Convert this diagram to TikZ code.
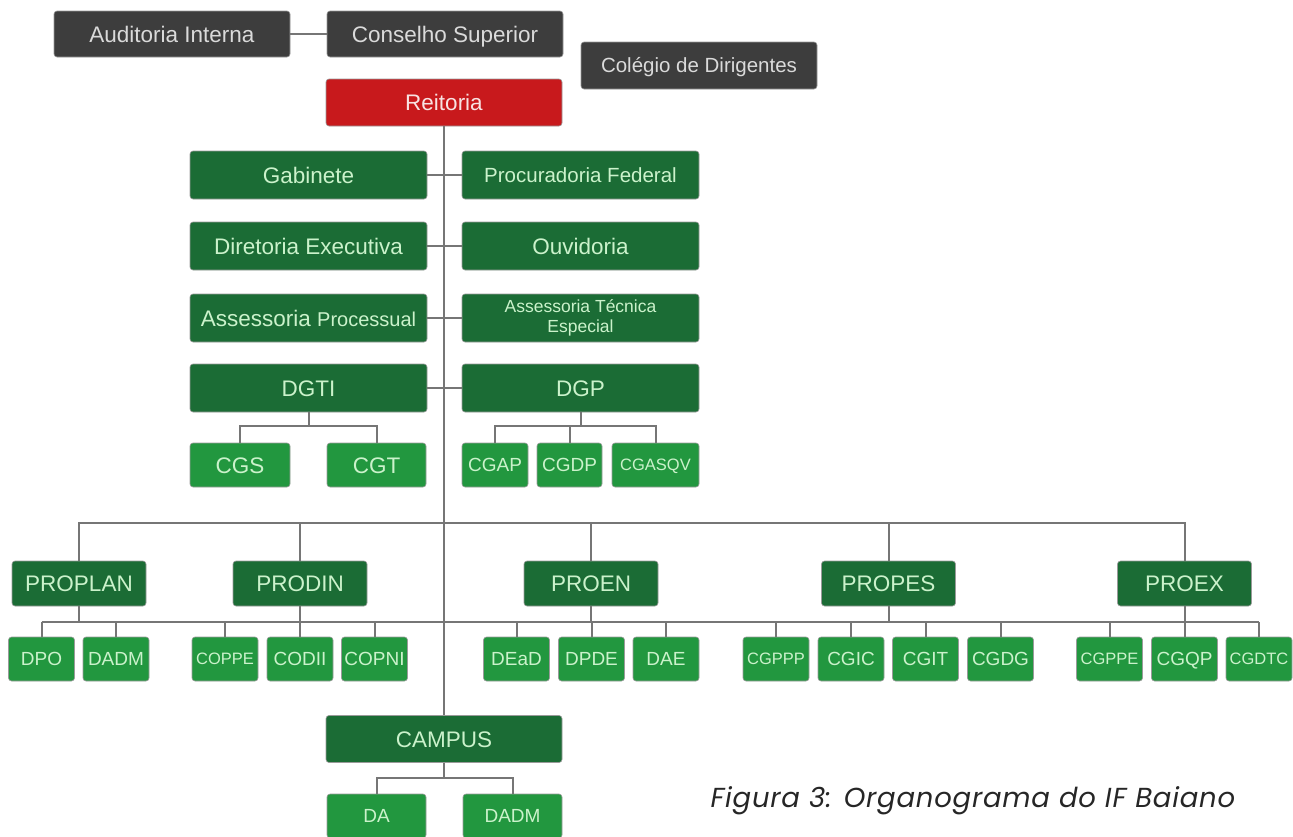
\documentclass[tikz,border=0pt]{standalone}
\usepackage{fontspec}
\setmainfont{Liberation Sans}
\newfontfamily\capfont{Poppins}[LetterSpace=2.8]
\definecolor{boxgray}{HTML}{3D3D3D}
\definecolor{txtgray}{HTML}{DADADA}
\definecolor{reired}{HTML}{C8191C}
\definecolor{txtred}{HTML}{F8E2E2}
\definecolor{darkgreen}{HTML}{1B6C35}
\definecolor{lightgreen}{HTML}{22973F}
\definecolor{txtgreen}{HTML}{CBF2CB}
\definecolor{linegray}{HTML}{767676}
\definecolor{edgegray}{HTML}{9A9A9A}
\definecolor{captxt}{HTML}{262626}
\newcommand{\fsz}[1]{\fontsize{#1}{#1}\selectfont}
\tikzset{
  org/.style={rectangle, rounded corners=3pt, inner sep=0pt, anchor=center, draw=edgegray, line width=0.6pt},
  fbig/.style={font=\fsz{22.5}, text height=16.1pt, text depth=0pt},
  fmid/.style={font=\fsz{20.5}, text height=14.7pt, text depth=0pt},
  fsub/.style={font=\fsz{19}, text height=13.6pt, text depth=0pt},
  tiny/.style={font=\fsz{16.5}, text height=11.8pt, text depth=0pt},
  topbox/.style={org, fbig, fill=boxgray, text=txtgray, minimum width=236pt, minimum height=46pt},
  headbox/.style={org, fbig, fill=reired, text=txtred, minimum width=236pt, minimum height=47pt},
  mainbox/.style={org, fbig, fill=darkgreen, text=txtgreen, minimum width=237pt, minimum height=48pt},
  twobox/.style={org, fill=darkgreen, text=txtgreen, minimum width=237pt, minimum height=48pt, align=center, font=\fontsize{17.5}{20}\selectfont},
  probox/.style={org, fbig, fill=darkgreen, text=txtgreen, minimum width=134pt, minimum height=45pt},
  subbox/.style={org, fsub, fill=lightgreen, text=txtgreen, minimum width=66pt, minimum height=44pt},
  link/.style={draw=linegray, line width=2pt},
}
\begin{document}
\begin{tikzpicture}[x=1pt, y=-1pt]
  \useasboundingbox (0,0) rectangle (1293,836);
  \node[topbox] (auditoria) at (172,34) {Auditoria Interna};
  \node[topbox] (conselho) at (445,34) {Conselho Superior};
  \node[topbox, minimum height=47pt, fmid] (colegio) at (699,65.5) {Colégio de Dirigentes};
  \node[headbox] (reitoria) at (444,102.5) {Reitoria};

  \node[mainbox] (gabinete) at (308.5,175) {Gabinete};
  \node[mainbox, fmid] (procuradoria) at (580.5,175) {Procuradoria Federal};
  \node[mainbox] (diretoria) at (308.5,246) {Diretoria Executiva};
  \node[mainbox] (ouvidoria) at (580.5,246) {Ouvidoria};
  \node[mainbox] (asproc) at (308.5,318) {Assessoria {\fsz{20}Processual}};
  \node[twobox] (astec) at (580.5,318) {Assessoria Técnica\\Especial};
  \node[mainbox] (dgti) at (308.5,388) {DGTI};
  \node[mainbox] (dgp) at (580.5,388) {DGP};

  \node[subbox, minimum width=100pt, fbig] (cgs) at (240,465) {CGS};
  \node[subbox, minimum width=99pt, fbig] (cgt) at (376.5,465) {CGT};
  \node[subbox] (cgap) at (495,465) {CGAP};
  \node[subbox, minimum width=65pt] (cgdp) at (569.5,465) {CGDP};
  \node[subbox, minimum width=87pt, tiny] (cgasqv) at (655.5,465) {CGASQV};

  \node[probox] (proplan) at (79,583.5) {PROPLAN};
  \node[probox] (prodin) at (300,583.5) {PRODIN};
  \node[probox] (proen) at (591,583.5) {PROEN};
  \node[probox] (propes) at (888.5,583.5) {PROPES};
  \node[probox] (proex) at (1184.5,583.5) {PROEX};

  \node[subbox] (dpo) at (41.5,659) {DPO};
  \node[subbox] (dadm) at (116,659) {DADM};
  \node[subbox, tiny] (coppe) at (225,659) {COPPE};
  \node[subbox] (codii) at (300,659) {CODII};
  \node[subbox] (copni) at (374.5,659) {COPNI};
  \node[subbox] (dead) at (516.5,659) {DEaD};
  \node[subbox] (dpde) at (591.5,659) {DPDE};
  \node[subbox] (dae) at (666,659) {DAE};
  \node[subbox, tiny] (cgppp) at (776,659) {CGPPP};
  \node[subbox] (cgic) at (851,659) {CGIC};
  \node[subbox] (cgit) at (925.5,659) {CGIT};
  \node[subbox] (cgdg) at (1000.5,659) {CGDG};
  \node[subbox, tiny] (cgppe) at (1109.5,659) {CGPPE};
  \node[subbox] (cgqp) at (1184.5,659) {CGQP};
  \node[subbox, tiny] (cgdtc) at (1259,659) {CGDTC};

  \node[mainbox, minimum width=236pt, minimum height=47pt] (campus) at (444,739) {CAMPUS};
  \node[subbox, minimum width=99pt] (da) at (376.5,816) {DA};
  \node[subbox, minimum width=99pt] (dadm2) at (512.5,816) {DADM};

  \node[anchor=base west, text=captxt, font=\capfont\itshape\fontsize{27.5}{30}\selectfont] (legenda) at (707,807) {Figura 3: Organograma do IF Baiano};

  \coordinate (bus) at (444,523);
  \coordinate (subbus) at (0,622);
  \begin{scope}[link]
    \draw (auditoria) -- (conselho);
    \draw (reitoria) -- (campus);
    \draw (gabinete) -- (procuradoria);
    \draw (diretoria) -- (ouvidoria);
    \draw (asproc) -- (astec);
    \draw (dgti) -- (dgp);
    \draw (dgti.south) -- ++(0,14) -| (cgs.north);
    \draw (dgti.south) -- ++(0,14) -| (cgt.north);
    \draw (dgp.south) -- ++(0,14) -| (cgap.north);
    \draw (dgp.south) -- ++(0,14) -| (cgdp.north);
    \draw (dgp.south) -- ++(0,14) -| (cgasqv.north);
    \foreach \p in {proplan,prodin,proen,propes,proex}
      \draw (bus) -| (\p.north);
    \draw (dpo.north |- subbus) -- (cgdtc.north |- subbus);
    \foreach \p in {proplan,prodin,proen,propes,proex}
      \draw (\p.south) -- (\p.south |- subbus);
    \foreach \c in {dpo,dadm,coppe,codii,copni,dead,dpde,dae,cgppp,cgic,cgit,cgdg,cgppe,cgqp,cgdtc}
      \draw (\c.north) -- (\c.north |- subbus);
    \draw (campus.south) -- ++(0,15) -| (da.north);
    \draw (campus.south) -- ++(0,15) -| (dadm2.north);
  \end{scope}
\end{tikzpicture}
\end{document}
